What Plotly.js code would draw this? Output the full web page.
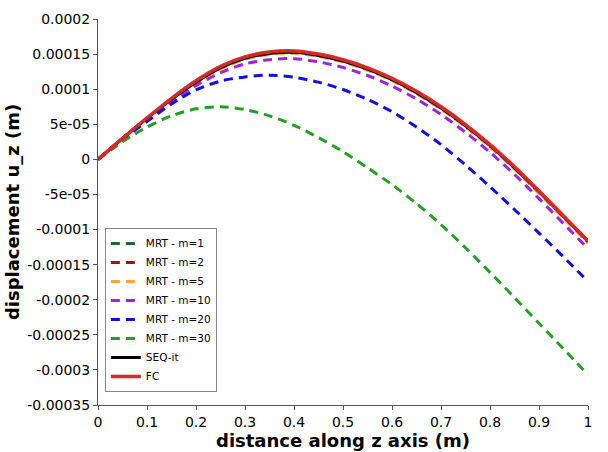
<!DOCTYPE html>
<html>
<head>
<meta charset="utf-8">
<script src="https://cdn.plot.ly/plotly-3.0.1.min.js"></script>
<style>
  html, body { margin: 0; padding: 0; background: #fff; }
  #chart { width: 608px; height: 452px; }
</style>
</head>
<body>
<div id="chart"></div>
<script>
// distance along z axis (m)
const zValues = [0, 0.05, 0.1, 0.15, 0.2, 0.25, 0.3, 0.35, 0.4, 0.45, 0.5,
                 0.55, 0.6, 0.65, 0.7, 0.75, 0.8, 0.85, 0.9, 0.95, 1.0];

// displacement u_z, in units of 1e-5 m
const UNIT = 1e-5;
const fc     = [0, 3.0, 5.9, 8.7, 11.2, 13.25, 14.6, 15.3, 15.45, 15.0, 14.2,
                13.05, 11.55, 9.7, 7.5, 4.95, 2.1, -1.05, -4.5, -8.05, -11.65];
const seqIt  = [0, 3.0, 5.85, 8.55, 11.0, 13.05, 14.4, 15.1, 15.25, 14.8, 14.0,
                12.85, 11.35, 9.5, 7.3, 4.78, 1.95, -1.2, -4.6, -8.15, -11.7];
const mrtM1  = [0, 3.0, 5.85, 8.55, 11.0, 13.05, 14.4, 15.1, 15.25, 14.8, 14.0,
                12.85, 11.35, 9.5, 7.3, 4.78, 1.95, -1.2, -4.6, -8.15, -11.7];
const mrtM2  = [0, 3.0, 5.83, 8.5, 10.95, 13.0, 14.35, 15.05, 15.2, 14.75, 13.95,
                12.8, 11.3, 9.45, 7.25, 4.72, 1.88, -1.27, -4.68, -8.24, -11.8];
const mrtM5  = [0, 2.95, 5.8, 8.45, 10.9, 12.9, 14.25, 14.95, 15.1, 14.65, 13.85,
                12.7, 11.2, 9.35, 7.15, 4.6, 1.75, -1.4, -4.85, -8.4, -11.95];
const mrtM10 = [0, 2.9, 5.6, 8.2, 10.5, 12.35, 13.6, 14.2, 14.35, 13.9, 13.1,
                11.95, 10.45, 8.6, 6.4, 3.85, 1.0, -2.15, -5.6, -9.15, -12.7];
const mrtM20 = [0, 2.8, 5.4, 7.9, 9.9, 11.15, 11.75, 12.0, 11.7, 11.0, 9.95,
                8.55, 6.8, 4.6, 2.1, -0.8, -3.9, -7.15, -10.5, -13.9, -17.4];
const mrtM30 = [0, 2.5, 4.6, 6.2, 7.2, 7.5, 7.1, 6.2, 4.85, 3.1, 1.1,
                -1.2, -3.6, -6.3, -9.3, -12.6, -16.1, -19.7, -23.35, -27.0, -30.7];

const xTicks = [0, 0.1, 0.2, 0.3, 0.4, 0.5, 0.6, 0.7, 0.8, 0.9, 1];
const xTickText = ['0', '0.1', '0.2', '0.3', '0.4', '0.5', '0.6', '0.7', '0.8', '0.9', '1'];
const yTicks = [2e-4, 1.5e-4, 1e-4, 5e-5, 0, -5e-5, -1e-4, -1.5e-4, -2e-4, -2.5e-4, -3e-4, -3.5e-4];
const yTickText = ['0.0002', '0.00015', '0.0001', '5e-05', '0', '-5e-05', '-0.0001',
                   '-0.00015', '-0.0002', '-0.00025', '-0.0003', '-0.00035'];

function series(name, y, color, dash, width) {
    return {
        x: zValues,
        y: y.map(v => v * UNIT),
        name: name,
        type: 'scatter',
        mode: 'lines',
        line: { color: color, width: width, dash: dash, shape: 'spline', smoothing: 0.8 },
    };
}

const traces = [
    series('MRT - m=1', mrtM1, '#2b5d2b', '9px,6px', 3),
    series('MRT - m=2', mrtM2, '#a31515', '9px,6px', 3),
    series('MRT - m=5', mrtM5, '#f7a830', '9px,6px', 3),
    series('MRT - m=10', mrtM10, '#a020e8', '9px,6px', 3),
    series('MRT - m=20', mrtM20, '#1010e0', '9px,6px', 3),
    series('MRT - m=30', mrtM30, '#22a022', '9px,6px', 3),
    series('SEQ-it', seqIt, '#000000', 'solid', 3),
    series('FC', fc, '#d42a2a', 'solid', 3.5),
];

const tickFont = { family: 'DejaVu Sans, sans-serif', size: 14, color: '#000' };
const titleFont = { family: 'DejaVu Sans, sans-serif', size: 18, color: '#000', weight: 'bold' };

const layout = {
    width: 608,
    height: 452,
    margin: { l: 98, r: 20, t: 19, b: 47 },
    paper_bgcolor: '#fff',
    plot_bgcolor: '#fff',
    showlegend: true,
    legend: {
        x: 0.014, y: 0.034, xanchor: 'left', yanchor: 'bottom',
        bgcolor: '#fff', bordercolor: '#888', borderwidth: 1,
        font: { family: 'DejaVu Sans, sans-serif', size: 10.5, color: '#000' },
        tracegroupgap: 0,
        itemwidth: 30,
    },
    xaxis: {
        range: [0, 1],
        tickvals: xTicks, ticktext: xTickText,
        ticks: 'outside', ticklen: 4, tickcolor: '#555',
        showline: true, linecolor: '#555', linewidth: 1,
        showgrid: false, zeroline: false,
        tickfont: tickFont,
        title: { text: 'distance along z axis (m)', font: titleFont, standoff: 1 },
    },
    yaxis: {
        range: [-3.5e-4, 2e-4],
        tickvals: yTicks, ticktext: yTickText,
        ticks: 'outside', ticklen: 4, tickcolor: '#555',
        showline: true, linecolor: '#555', linewidth: 1,
        showgrid: false, zeroline: false,
        tickfont: tickFont,
        title: { text: 'displacement u_z (m)', font: titleFont, standoff: 2 },
    },
};

Plotly.newPlot('chart', traces, layout, { displayModeBar: false, staticPlot: true });
</script>
</body>
</html>
